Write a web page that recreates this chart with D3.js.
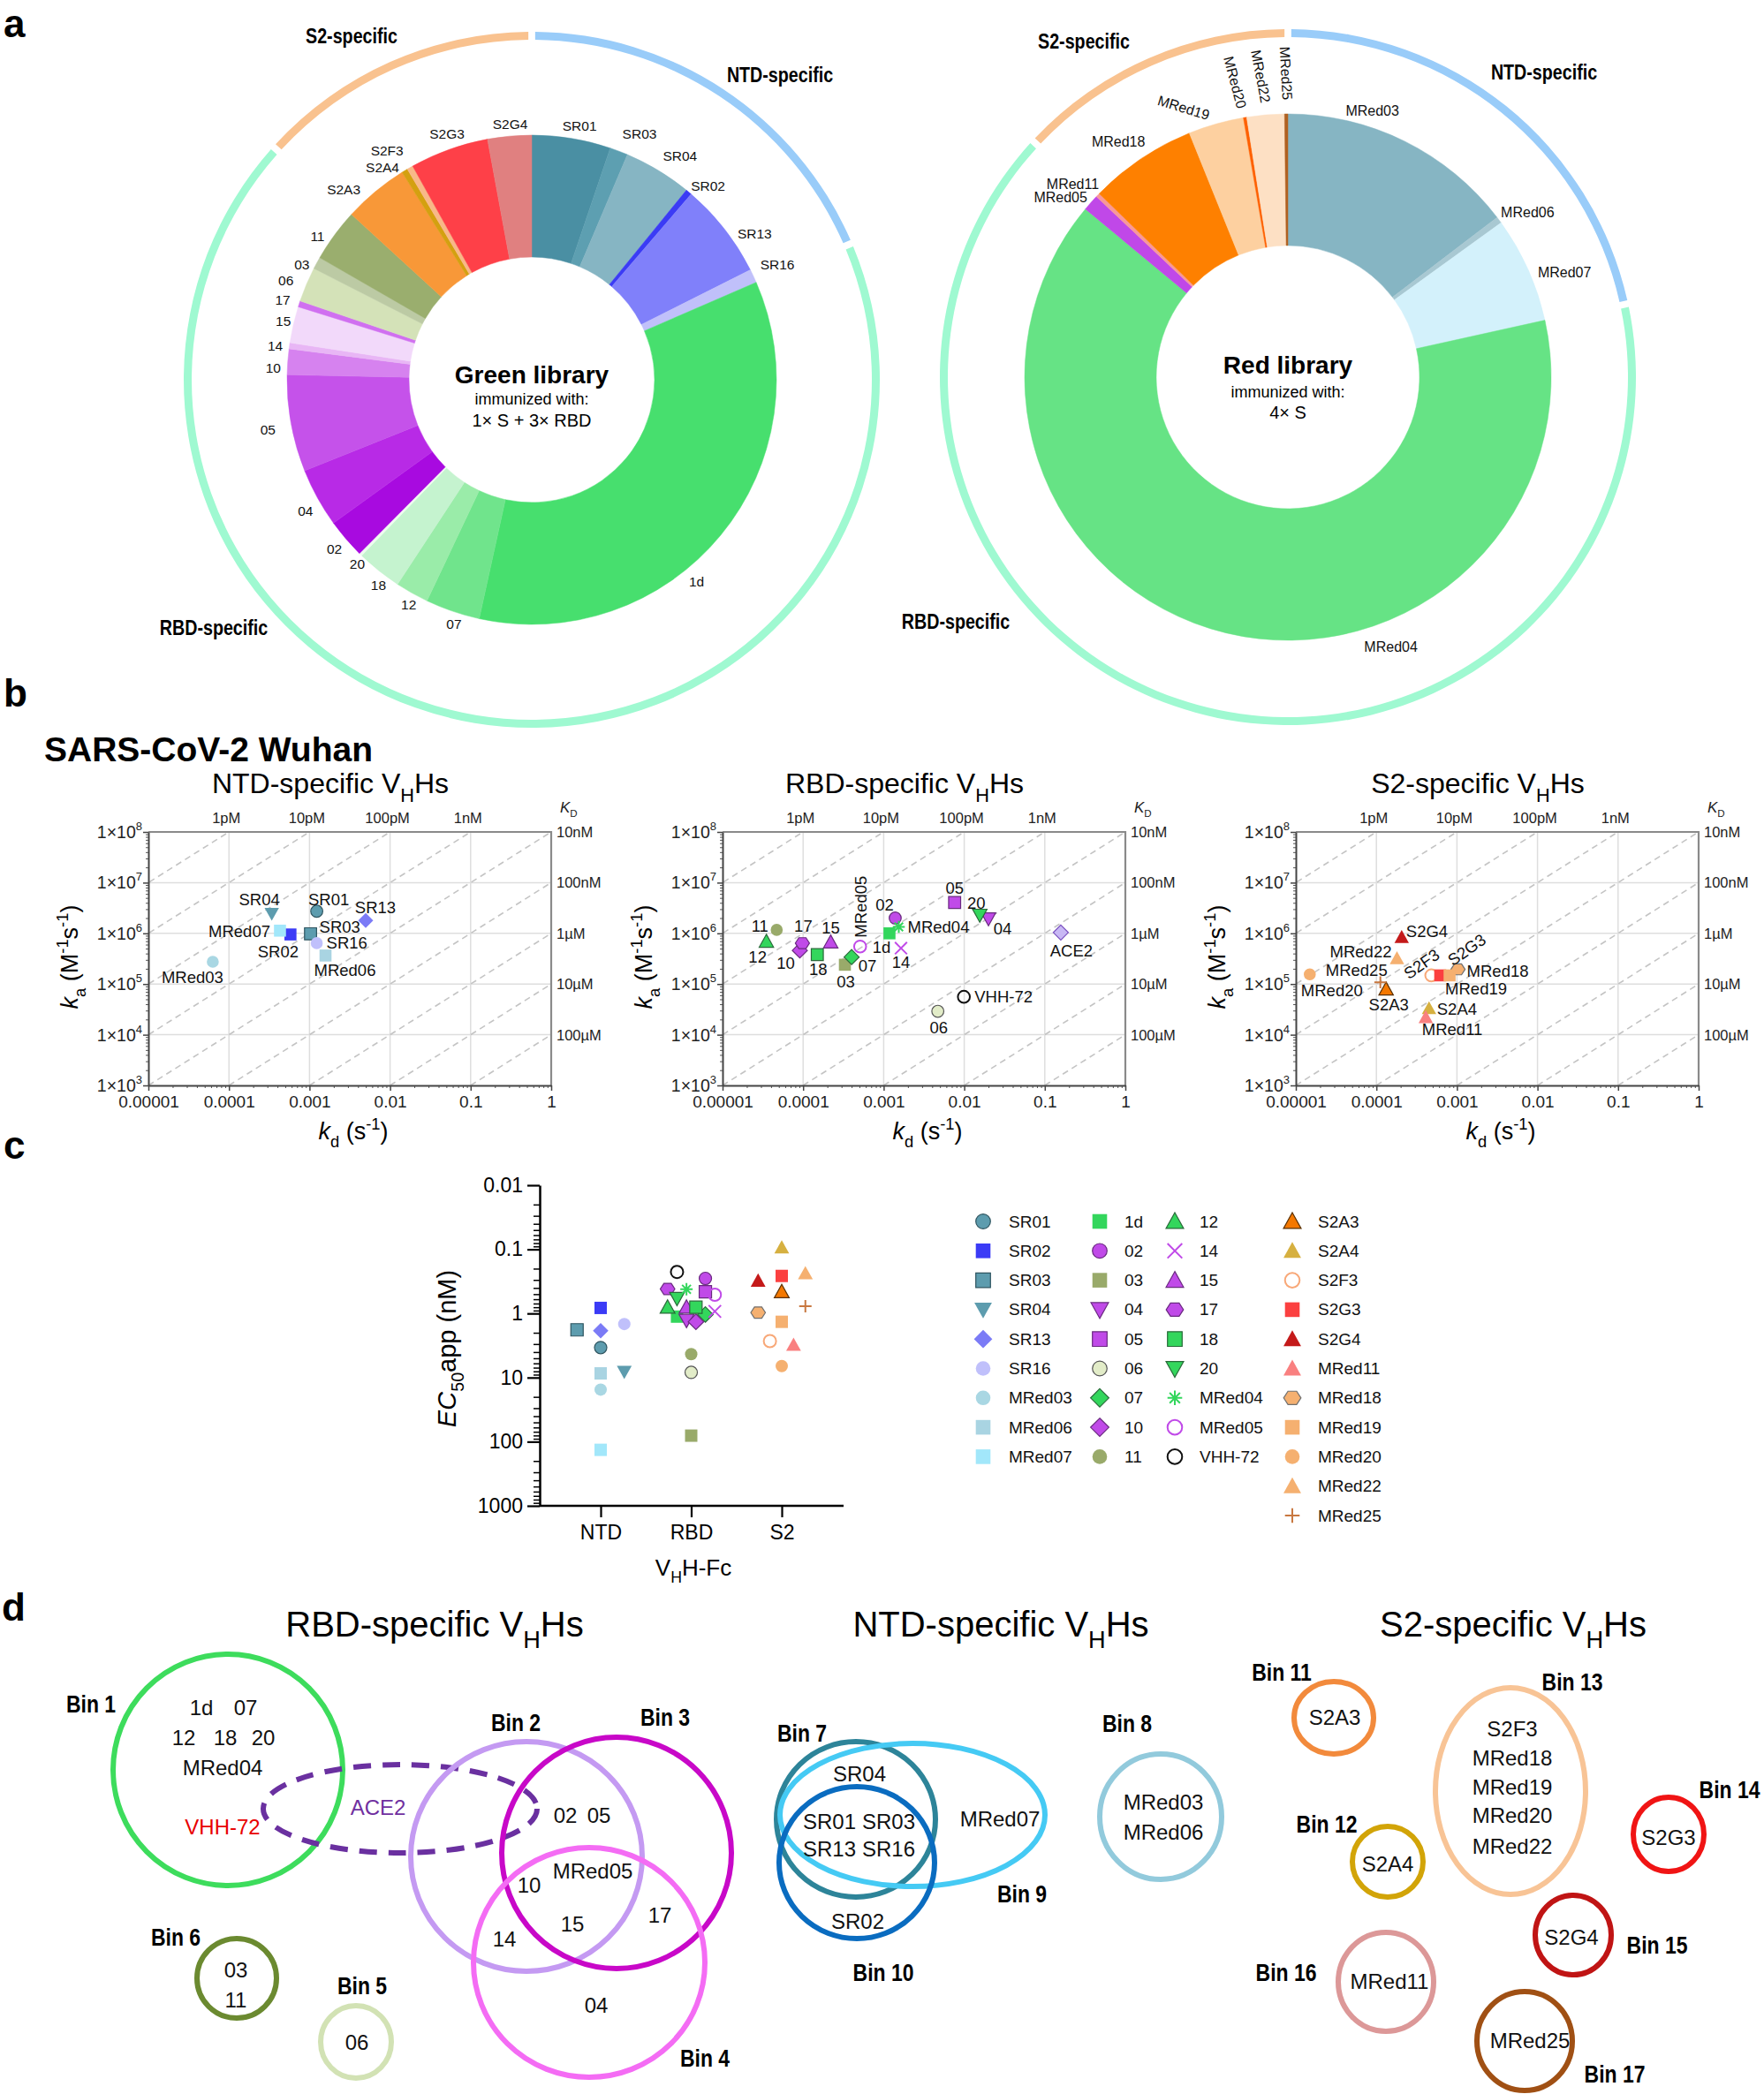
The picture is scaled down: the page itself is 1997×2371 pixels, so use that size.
<!DOCTYPE html>
<html><head><meta charset="utf-8">
<script src="https://cdnjs.cloudflare.com/ajax/libs/d3/7.8.5/d3.min.js"></script>
<style>
body{margin:0;background:#fff;}
svg{display:block;font-family:"Liberation Sans",Arial,Helvetica,sans-serif;}
</style></head>
<body><svg id="chart" width="1997" height="2371"></svg>
<script>
// ================= DATA =================
// Panel a: library composition (share of clones, %)
const greenNames  = ["SR01","SR03","SR04","SR02","SR13","SR16","1d","07","12","18","20","02","04","05","10","14","15","17","06","03","11","S2A3","S2A4","S2F3","S2G3","S2G4"];
const greenShares = [5.2,1.2,4.5,0.4,6.3,0.9,35.0,3.6,2.2,3.0,0.2,2.6,3.9,6.4,1.7,0.4,2.4,0.4,2.3,0.8,3.5,4.3,0.4,0.4,5.2,2.9];
const greenGroups = ["NTD","NTD","NTD","NTD","NTD","NTD","RBD","RBD","RBD","RBD","RBD","RBD","RBD","RBD","RBD","RBD","RBD","RBD","RBD","RBD","RBD","S2","S2","S2","S2","S2"];
const redNames  = ["MRed03","MRed06","MRed07","MRed04","MRed05","MRed11","MRed18","MRed19","MRed20","MRed22","MRed25"];
const redShares = [14.6,0.4,6.5,64.4,1.0,0.25,6.6,3.4,0.2,2.3,0.2];
const redGroups = ["NTD","NTD","NTD","RBD","RBD","S2","S2","S2","S2","S2","S2"];
const ringCategories = ["NTD","RBD","S2"];

// Panel b: kinetics (kd in 1/s, ka in 1/(M s))
const ntdNames = ["SR01","SR02","SR03","SR04","SR13","SR16","MRed03","MRed06","MRed07"];
const ntdKd = [1.23e-3,5.8e-4,1.03e-3,3.4e-4,4.98e-3,1.23e-3,6.3e-5,1.58e-3,4.3e-4];
const ntdKa = [2.73e6,9.5e5,9.8e5,2.45e6,1.8e6,6.4e5,2.75e5,3.65e5,1.13e6];
const rbdNames = ["1d","02","03","04","05","06","07","10","11","12","14","15","17","18","20","MRed04","MRed05","VHH-72","ACE2"];
const rbdKd = [1.18e-3,1.39e-3,3.3e-4,2.0e-2,7.6e-3,4.7e-3,4.0e-4,9.1e-5,4.7e-5,3.5e-5,1.64e-3,2.2e-4,9.8e-5,1.5e-4,1.56e-2,1.54e-3,5.1e-4,9.9e-3,0.158];
const rbdKa = [1.0e6,2.0e6,2.4e5,1.95e6,4.06e6,2.9e4,3.4e5,4.6e5,1.17e6,6.9e5,5.1e5,6.7e5,6.4e5,3.8e5,2.3e6,1.34e6,5.5e5,5.6e4,1.04e6];
const s2Names = ["S2A3","S2A4","S2F3","S2G3","S2G4","MRed11","MRed18","MRed19","MRed20","MRed22","MRed25"];
const s2Kd = [1.32e-4,4.5e-4,4.8e-4,6.2e-4,2.06e-4,4.1e-4,1.03e-3,8.1e-4,1.49e-5,1.8e-4,1.12e-4];
const s2Ka = [7.9e4,3.3e4,1.48e5,1.48e5,8.4e5,2.2e4,1.95e5,1.48e5,1.55e5,3.2e5,1.08e5];
const kdTickLabels = ["0.00001","0.0001","0.001","0.01","0.1","1"];
const kaTickExps = [3,4,5,6,7,8];
const kdTopLabels = ["1pM","10pM","100pM","1nM"];
const kdRightLabels = ["10nM","100nM","1µM","10µM","100µM"];

// Panel c: EC50app (nM)
const ec50Groups = ["NTD","RBD","S2"];
const ntdEc50 = [3.4,0.82,1.8,8.1,1.86,1.46,15.4,8.6,134];
const rbdEcNames = ["1d","02","03","04","05","06","07","10","11","12","14","15","17","18","20","MRed04","MRed05","VHH-72"];
const rbdEc50 = [1.12,0.284,80.5,1.28,0.46,8.3,1.04,1.35,4.3,0.8,0.93,0.8,0.415,0.8,0.58,0.42,0.51,0.225];
const s2Ec50 = [0.46,0.094,2.7,0.26,0.31,3.1,0.97,1.35,6.6,0.237,0.77];
const ecTickLabels = ["0.01","0.1","1","10","100","1000"];
const legendCols = [
  ["SR01","SR02","SR03","SR04","SR13","SR16","MRed03","MRed06","MRed07"],
  ["1d","02","03","04","05","06","07","10","11"],
  ["12","14","15","17","18","20","MRed04","MRed05","VHH-72"],
  ["S2A3","S2A4","S2F3","S2G3","S2G4","MRed11","MRed18","MRed19","MRed20","MRed22","MRed25"]
];

// ================= STYLES / LAYOUT =================
const sliceColor = {
  SR01:"#4a8fa3",SR03:"#5d9fb1",SR04:"#86b5c3",SR02:"#3b3bf5",SR13:"#8080fa",SR16:"#c0c0fa",
  "1d":"#47df6e","07":"#70e48c","12":"#9aeca9","18":"#c5f3cf","20":"#eefcf0",
  "02":"#a80ae0","04":"#b82ae6","05":"#c552ea","10":"#d682ef","14":"#e8b6f5","15":"#f2d9fa","17":"#d070f0",
  "06":"#d4e2b8","03":"#bccaa4","11":"#9aae6e",
  S2A3:"#f89838",S2A4:"#d4a010",S2F3:"#f8b888",S2G3:"#fe4048",S2G4:"#e08080",
  MRed03:"#86b5c3",MRed06:"#a8c8d2",MRed07:"#d3f1fb",MRed04:"#66e385",MRed05:"#c048e8",MRed11:"#f89898",
  MRed18:"#fe8000",MRed19:"#fdd0a0",MRed20:"#fe6000",MRed22:"#fde0c4",MRed25:"#b06020"
};
const ringColor = {NTD:"#99ccf9",RBD:"#9ff9d1",S2:"#f9c28f"};
const greenLabelAdj = {SR01:[1.3,293],SR03:[2.8,304],SR04:[2.4,304],SR02:[2.3,297],SR13:[4.7,302],SR16:[0,307],
  "1d":[11.3,295],"07":[-1.2,290],"12":[-0.6,290],"18":[-1.9,290],"20":[-0.9,287],"02":[0,294],"04":[-1.2,296],
  "05":[-0.4,304],"10":[-1.5,293],"14":[-0.4,293],"15":[0.2,289],"17":[-0.3,296],"06":[-1,300],"03":[-1.9,291],
  "11":[-2.4,292],S2A3:[-4.9,303],S2A4:[-3.8,294],S2F3:[-2.4,307],S2G3:[0.8,295],S2G4:[0.4,291]};
const redLabelAdj = {MRed03:[-8.7,316,0],MRed06:[2.2,329,0],MRed07:[3.4,335,0],MRed04:[-34.5,327,0],
  MRed05:[-3.2,328,0],MRed11:[-1.9,327,0],MRed18:[-1.9,328,0],MRed19:[-5.3,327,17],MRed20:[-0.8,339,75],
  MRed22:[-0.3,342,79],MRed25:[0,344,87]};

const marker = {
  SR01:{s:"circle",f:"#5d9cae",k:"#2f5560"}, SR02:{s:"square",f:"#3b3bf6"}, SR03:{s:"square",f:"#5d9cae",k:"#2f5560"},
  SR04:{s:"triDown",f:"#5d9cae"}, SR13:{s:"diamond",f:"#7b7bf6"}, SR16:{s:"circle",f:"#c0c0fb"},
  MRed03:{s:"circle",f:"#a9d7e3"}, MRed06:{s:"square",f:"#a9d4e2"}, MRed07:{s:"square",f:"#a2e7fa"},
  "1d":{s:"square",f:"#33d65c"}, "02":{s:"circle",f:"#c04ae8",k:"#6a2a80"}, "03":{s:"square",f:"#99aa6a"},
  "04":{s:"triDown",f:"#c04ae8",k:"#6a2a80"}, "05":{s:"square",f:"#c04ae8",k:"#6a2a80"}, "06":{s:"circle",f:"#e2ecc8",k:"#555"},
  "07":{s:"diamond",f:"#33d65c",k:"#2a6a3a"}, "10":{s:"diamond",f:"#c04ae8",k:"#6a2a80"}, "11":{s:"circle",f:"#99aa6a"},
  "12":{s:"triUp",f:"#33d65c",k:"#2a6a3a"}, "14":{s:"times",k:"#c04ae8"}, "15":{s:"triUp",f:"#c04ae8",k:"#6a2a80"},
  "17":{s:"hex",f:"#c04ae8",k:"#6a2a80"}, "18":{s:"square",f:"#33d65c",k:"#2a6a3a"}, "20":{s:"triDown",f:"#33d65c",k:"#2a6a3a"},
  MRed04:{s:"asterisk",k:"#33d65c"}, MRed05:{s:"circle",f:"none",k:"#c04ae8"}, "VHH-72":{s:"circle",f:"none",k:"#111"},
  ACE2:{s:"diamond",f:"#c8b8f4",k:"#7a50c0"},
  S2A3:{s:"triUp",f:"#f47800",k:"#5a3000"}, S2A4:{s:"triUp",f:"#d6b040"}, S2F3:{s:"circle",f:"none",k:"#f8a878"},
  S2G3:{s:"square",f:"#fb4040"}, S2G4:{s:"triUp",f:"#c41a1a"}, MRed11:{s:"triUp",f:"#f98080"},
  MRed18:{s:"hex",f:"#f5b070",k:"#707070"}, MRed19:{s:"square",f:"#f5b070"}, MRed20:{s:"circle",f:"#f5b070"},
  MRed22:{s:"triUp",f:"#f5b070"}, MRed25:{s:"plus",k:"#c87840"}
};
const kinLabel = {
  SR01:[13.5,-13,"middle"],SR04:[-14,-16,"middle"],SR13:[11,-15,"middle"],MRed07:[-11,1,"end"],SR02:[-14,19,"middle"],
  SR03:[10,-8,"start"],SR16:[11,0,"start"],MRed06:[-13,17,"start"],MRed03:[-23,18,"middle"],
  "11":[-19,-4,"middle"],"12":[-10,17,"middle"],"17":[1,-19,"middle"],"10":[-16,14,"middle"],"15":[0,-16,"middle"],
  "18":[1,17,"middle"],"03":[1,19,"middle"],"07":[18,10,"middle"],MRed05:[1,-45,"middle",-90],"1d":[-9,16,"middle"],
  "02":[-12,-15,"middle"],MRed04:[10,0,"start"],"14":[0,16,"middle"],"05":[0,-16,"middle"],"20":[-4,-14,"middle"],
  "04":[16,11,"middle"],ACE2:[12,21,"middle"],"VHH-72":[12,0,"start"],"06":[1,18,"middle"],
  S2G4:[5,-7,"start"],MRed22:[-6,-8,"end"],MRed20:[25,18,"middle"],MRed25:[8,-14,"end"],S2A3:[3,17,"middle"],
  S2F3:[-11,-13,"middle",-35],S2G3:[30,-29,"middle",-35],MRed18:[10,2,"start"],MRed19:[30,15,"middle"],
  S2A4:[9,1,"start"],MRed11:[30,14,"middle"]
};
const ecJitter = {SR01:0,SR02:0,SR03:-2.5,SR04:2.5,SR13:0,SR16:2.5,MRed03:0,MRed06:0,MRed07:0,
  "1d":-1.5,"02":1.5,"03":0,"04":-0.5,"05":1.5,"06":0,"07":1.5,"10":0.5,"11":0,"12":-2.5,"14":2.5,"15":-0.5,"17":-2.5,
  "18":0.5,"20":-1.5,MRed04:-0.5,MRed05:2.5,"VHH-72":-1.5,
  S2A3:0,S2A4:0,S2F3:-1.25,S2G3:0,S2G4:-2.5,MRed11:1.25,MRed18:-2.5,MRed19:0,MRed20:0,MRed22:2.5,MRed25:2.5};

// Panel d layout
const binRings = [
  {id:"Bin 1",cx:258,cy:2004,rx:130,ry:131,c:"#3ddc5c"},
  {id:"ACE2",cx:453,cy:2048,rx:155,ry:50,c:"#6a30a0",dash:true},
  {id:"Bin 2",cx:596,cy:2102,rx:131,ry:130,c:"#c49af2"},
  {id:"Bin 3",cx:698,cy:2098,rx:130,ry:131,c:"#c808c8"},
  {id:"Bin 4",cx:667,cy:2222,rx:131,ry:130,c:"#f46cf4"},
  {id:"Bin 6",cx:268,cy:2240,rx:45,ry:45,c:"#6b8a30"},
  {id:"Bin 5",cx:403,cy:2312,rx:40,ry:41,c:"#d2e2b4"},
  {id:"Bin 7",cx:969,cy:2060,rx:90,ry:88,c:"#2d8499"},
  {id:"Bin 9",cx:1033,cy:2055,rx:150,ry:81,c:"#45caf4"},
  {id:"Bin 10",cx:970,cy:2109,rx:88,ry:86,c:"#0a6cc0"},
  {id:"Bin 8",cx:1314,cy:2057,rx:69,ry:71,c:"#92cadc"},
  {id:"Bin 11",cx:1510,cy:1945,rx:45,ry:41,c:"#f28a3c"},
  {id:"Bin 13",cx:1710,cy:2028,rx:85,ry:117,c:"#f8c496"},
  {id:"Bin 12",cx:1571,cy:2108,rx:40,ry:40,c:"#d2a408"},
  {id:"Bin 14",cx:1889,cy:2077,rx:40,ry:42,c:"#f01414"},
  {id:"Bin 15",cx:1781,cy:2191,rx:43,ry:45,c:"#c01414"},
  {id:"Bin 16",cx:1569,cy:2244,rx:54,ry:56,c:"#dc9898"},
  {id:"Bin 17",cx:1726,cy:2311,rx:54,ry:56,c:"#a05014"}
];
const binTexts = [
  ["1d",228,1933],["07",278,1933],["12",208,1967],["18",255,1967],["20",298,1967],["MRed04",252,2001],
  ["VHH-72",252,2068,"#e80000"],["ACE2",428,2046,"#7030a0"],["02",640,2055],["05",678,2055],["MRed05",671,2118],
  ["10",599,2134],["17",747,2168],["15",648,2178],["14",571,2195],["04",675,2270],["03",267,2230],["11",267,2264],["06",404,2312],
  ["SR04",973,2008],["SR01",939,2062],["SR03",1006,2062],["SR13",939,2093],["SR16",1006,2093],["MRed07",1132,2059],
  ["SR02",971,2175],["MRed03",1317,2040],["MRed06",1317,2074],
  ["S2A3",1511,1944],["S2F3",1712,1957],["MRed18",1712,1990],["MRed19",1712,2023],["MRed20",1712,2055],["MRed22",1712,2090],
  ["S2A4",1571,2110],["S2G3",1889,2080],["S2G4",1779,2193],["MRed11",1573,2243],["MRed25",1732,2310]
];
const binLabels = [
  ["Bin 1",103,1929],["Bin 2",584,1950],["Bin 3",753,1944],["Bin 4",798,2330],["Bin 6",199,2193],["Bin 5",410,2248],
  ["Bin 7",908,1962],["Bin 9",1157,2144],["Bin 10",1000,2233],["Bin 8",1276,1951],
  ["Bin 11",1451,1893],["Bin 13",1780,1904],["Bin 12",1502,2065],["Bin 14",1958,2026],["Bin 15",1876,2202],
  ["Bin 16",1456,2233],["Bin 17",1828,2348]
];

// ================= HELPERS =================
const svg = d3.select("#chart");
svg.append("rect").attr("width",1997).attr("height",2371).attr("fill","#fff");

function narrow(g,x,y,str,size,opts={}){
  const sx = opts.sx||0.82;
  return g.append("text").attr("transform",`translate(${x},${y}) scale(${sx},1)`)
    .attr("text-anchor",opts.anchor||"middle").attr("dominant-baseline","central")
    .attr("font-size",size).attr("font-weight",opts.weight||"bold").attr("fill",opts.color||"#000").text(str);
}
function rich(sel,parts,size){
  let shift=0;
  parts.forEach(([t,k])=>{
    k=k||"";
    const ts=sel.append("tspan").text(t);
    let target=0;
    if(k.includes("sub")) target=size*0.32;
    if(k.includes("sup")) target=-size*0.42;
    ts.attr("dy",target-shift); shift=target;
    if(k.includes("sub")||k.includes("sup")) ts.attr("font-size",size*0.68);
    if(k.startsWith("i")) ts.attr("font-style","italic");
  });
  return sel;
}
function markerPath(shape,r){
  switch(shape){
    case "circle": return `M${r},0A${r},${r} 0 1,1 ${-r},0A${r},${r} 0 1,1 ${r},0Z`;
    case "square": return `M${-r},${-r}H${r}V${r}H${-r}Z`;
    case "diamond": {const a=r*1.25; return `M0,${-a}L${a},0L0,${a}L${-a},0Z`;}
    case "triUp": {const a=r*1.2; return `M0,${-a}L${a},${a*0.8}L${-a},${a*0.8}Z`;}
    case "triDown": {const a=r*1.2; return `M0,${a}L${a},${-a*0.8}L${-a},${-a*0.8}Z`;}
    case "hex": {const p=d3.range(6).map(i=>[r*1.18*Math.cos(i*Math.PI/3), r*1.05*Math.sin(i*Math.PI/3)]); return "M"+p.map(q=>q.join(",")).join("L")+"Z";}
    case "times": return `M${-r},${-r}L${r},${r}M${r},${-r}L${-r},${r}`;
    case "plus": return `M${-r},0H${r}M0,${-r}V${r}`;
    case "asterisk": {let s=""; for(let i=0;i<4;i++){const a=i*Math.PI/4; s+=`M${-r*Math.cos(a)},${-r*Math.sin(a)}L${r*Math.cos(a)},${r*Math.sin(a)}`;} return s;}
  }
}
function drawMarker(g,name,x,y,r){
  const m=marker[name];
  const lineOnly = ["times","plus","asterisk"].includes(m.s);
  g.append("path").attr("transform",`translate(${x},${y})`).attr("d",markerPath(m.s,r))
    .attr("fill", lineOnly ? "none" : (m.f||"none"))
    .attr("stroke", m.k||"none")
    .attr("stroke-width", lineOnly||m.f==="none" ? 2 : 1.2);
}
function panelLetter(t,x,y){
  svg.append("text").attr("x",x).attr("y",y).attr("font-size",44).attr("font-weight","bold").text(t);
}

// ================= PANEL a =================
panelLetter("a",4,42);
function donut(cx,cy,rIn,rOut,names,shares,groups,labelAdj,labelSize,centerLines){
  const g=svg.append("g").attr("transform",`translate(${cx},${cy})`);
  const data=names.map((n,i)=>({n,v:shares[i],grp:groups[i]}));
  const arcs=d3.pie().sort(null).value(d=>d.v)(data);
  const arc=d3.arc().innerRadius(rIn).outerRadius(rOut);
  g.selectAll("path.sl").data(arcs).join("path").attr("class","sl").attr("d",arc)
    .attr("fill",d=>sliceColor[d.data.n]).attr("stroke",d=>sliceColor[d.data.n]).attr("stroke-width",0.5);
  const catVals=ringCategories.map(c=>d3.sum(data.filter(d=>d.grp===c),d=>d.v));
  const ring=d3.pie().sort(null).padAngle(0.014)(catVals);
  g.selectAll("path.ring").data(ring).join("path").attr("class","ring")
    .attr("d",d3.arc().innerRadius(385).outerRadius(394)).attr("fill",(d,i)=>ringColor[ringCategories[i]]);
  arcs.forEach(a=>{
    const adj=labelAdj[a.data.n]||[0,rOut+18,0];
    const mid=(a.startAngle+a.endAngle)/2+adj[0]*Math.PI/180;
    const lx=adj[1]*Math.sin(mid), ly=-adj[1]*Math.cos(mid);
    g.append("text").attr("transform",`translate(${lx},${ly}) rotate(${adj[2]||0})`)
      .attr("text-anchor","middle").attr("dominant-baseline","central").attr("font-size",labelSize).attr("fill","#111")
      .text(a.data.n);
  });
  centerLines.forEach(([t,y,s,w])=>{
    g.append("text").attr("x",0).attr("y",y).attr("text-anchor","middle").attr("font-size",s)
      .attr("font-weight",w||"normal").attr("fill","#000").text(t);
  });
  return g;
}
donut(602,430,139,277,greenNames,greenShares,greenGroups,greenLabelAdj,15.5,
  [["Green library",4,28,"bold"],["immunized with:",28,18],["1× S + 3× RBD",53,20]]);
donut(1458,427,149,298,redNames,redShares,redGroups,redLabelAdj,16,
  [["Red library",-4,28,"bold"],["immunized with:",23,18],["4× S",47,20]]);
narrow(svg,398,41,"S2-specific",24);
narrow(svg,883,85,"NTD-specific",24);
narrow(svg,242,711,"RBD-specific",24);
narrow(svg,1227,47,"S2-specific",24);
narrow(svg,1748,82,"NTD-specific",24);
narrow(svg,1082,704,"RBD-specific",24);

// ================= PANEL b =================
panelLetter("b",4,800);
svg.append("text").attr("x",50).attr("y",862).attr("font-size",39).attr("font-weight","bold").text("SARS-CoV-2 Wuhan");

function kinetics(x0,title,names,kd,ka){
  const W=456, top=942, bot=1229;
  const x=d3.scaleLog().domain([1e-5,1]).range([x0,x0+W]);
  const y=d3.scaleLog().domain([1e3,1e8]).range([bot,top]);
  const g=svg.append("g");
  const cid="clip"+x0;
  g.append("clipPath").attr("id",cid).append("rect").attr("x",x0).attr("y",top).attr("width",W).attr("height",bot-top);
  const xDec=[1e-4,1e-3,1e-2,1e-1], yDec=[1e4,1e5,1e6,1e7];
  g.selectAll(".gx").data(xDec).join("line").attr("x1",d=>x(d)).attr("x2",d=>x(d)).attr("y1",top).attr("y2",bot)
    .attr("stroke","#dedede").attr("stroke-width",1.5);
  g.selectAll(".gy").data(yDec).join("line").attr("y1",d=>y(d)).attr("y2",d=>y(d)).attr("x1",x0).attr("x2",x0+W)
    .attr("stroke","#dedede").attr("stroke-width",1.5);
  const KDs=d3.range(-12,-3).map(k=>Math.pow(10,k));
  g.append("g").attr("clip-path",`url(#${cid})`).selectAll("line").data(KDs).join("line")
    .attr("x1",K=>x(K*1e3)).attr("y1",y(1e3)).attr("x2",K=>x(K*1e8)).attr("y2",y(1e8))
    .attr("stroke","#c4c4c4").attr("stroke-width",1.6).attr("stroke-dasharray","7,5");
  g.append("path").attr("d",`M${x0},${top}H${x0+W}V${bot}`).attr("fill","none").attr("stroke","#8a8a8a").attr("stroke-width",2.2);
  // left axis
  const minorY=[]; for(let e=3;e<8;e++) for(let m=2;m<10;m++) minorY.push(m*Math.pow(10,e));
  const majorY=kaTickExps.map(e=>Math.pow(10,e));
  g.append("g").attr("transform",`translate(${x0},0)`).call(d3.axisLeft(y).tickValues(minorY).tickSize(3).tickFormat(""))
    .call(s=>{s.select(".domain").remove(); s.selectAll("line").attr("stroke","#555");});
  g.append("g").attr("transform",`translate(${x0},0)`).call(d3.axisLeft(y).tickValues(majorY).tickSize(6).tickSizeOuter(0).tickFormat(""))
    .call(s=>{s.select(".domain").attr("stroke","#444").attr("stroke-width",2); s.selectAll("line").attr("stroke","#444").attr("stroke-width",1.5);});
  kaTickExps.forEach(e=>{
    const t=g.append("text").attr("x",x0-7).attr("y",y(Math.pow(10,e))+7).attr("text-anchor","end").attr("font-size",19.5).attr("fill","#222");
    t.append("tspan").text("1×10");
    t.append("tspan").attr("dy",-9).attr("font-size",13).text(e);
  });
  // bottom axis
  const minorX=[]; for(let e=-5;e<0;e++) for(let m=2;m<10;m++) minorX.push(m*Math.pow(10,e));
  const majorX=[1e-5,1e-4,1e-3,1e-2,1e-1,1];
  g.append("g").attr("transform",`translate(0,${bot})`).call(d3.axisBottom(x).tickValues(minorX).tickSize(3).tickFormat(""))
    .call(s=>{s.select(".domain").remove(); s.selectAll("line").attr("stroke","#555");});
  g.append("g").attr("transform",`translate(0,${bot})`).call(d3.axisBottom(x).tickValues(majorX).tickSize(6).tickSizeOuter(0).tickFormat((d,i)=>kdTickLabels[i]))
    .call(s=>{s.select(".domain").attr("stroke","#444").attr("stroke-width",2); s.selectAll("line").attr("stroke","#444").attr("stroke-width",1.5);
      s.selectAll("text").attr("font-size",19).attr("fill","#222").attr("font-family",null).attr("dy","0.71em").attr("y",12);});
  // KD labels
  kdTopLabels.forEach((t,i)=>{
    g.append("text").attr("x",x(majorX[i+1])-3).attr("y",top-16).attr("text-anchor","middle").attr("dominant-baseline","central")
      .attr("font-size",16.5).attr("fill","#222").text(t);
  });
  kdRightLabels.forEach((t,i)=>{
    g.append("text").attr("x",x0+W+6).attr("y",y(Math.pow(10,8-i))).attr("dominant-baseline","central")
      .attr("font-size",16.5).attr("fill","#222").text(t);
  });
  rich(g.append("text").attr("x",x0+W+10).attr("y",top-22).attr("font-size",17).attr("fill","#222"),[["K","i"],["D","sub"]],17);
  // titles
  rich(g.append("text").attr("x",x0+W/2-22).attr("y",898).attr("text-anchor","middle").attr("font-size",32).attr("fill","#000"),
    [[title+"-specific V",""],["H","sub"],["Hs",""]],32);
  rich(g.append("text").attr("transform",`translate(${x0-80},${(top+bot)/2-2}) rotate(-90)`).attr("text-anchor","middle")
    .attr("font-size",27).attr("fill","#000"),[["k","i"],["a","sub"],[" (M",""],["-1","sup"],["s",""],["-1","sup"],[")",""]],27);
  rich(g.append("text").attr("x",x0+W/2+4).attr("y",1290).attr("text-anchor","middle").attr("font-size",27).attr("fill","#000"),
    [["k","i"],["d","sub"],[" (s",""],["-1","sup"],[")",""]],27);
  // points
  const pts=names.map((n,i)=>({n,kd:kd[i],ka:ka[i]}));
  pts.forEach(p=>drawMarker(g,p.n,x(p.kd),y(p.ka),6.8));
  pts.forEach(p=>{
    const L=kinLabel[p.n]||[0,-15,"middle"];
    g.append("text").attr("transform",`translate(${x(p.kd)+L[0]},${y(p.ka)+L[1]}) rotate(${L[3]||0})`)
      .attr("text-anchor",L[2]).attr("dominant-baseline","central").attr("font-size",18.5).attr("fill","#111").text(p.n);
  });
}
kinetics(168,"NTD",ntdNames,ntdKd,ntdKa);
kinetics(818,"RBD",rbdNames,rbdKd,rbdKa);
kinetics(1467,"S2",s2Names,s2Kd,s2Ka);

// ================= PANEL c =================
panelLetter("c",4,1312);
(function(){
  const g=svg.append("g");
  const y=d3.scaleLog().domain([0.01,1000]).range([1342,1705]);
  const x=d3.scalePoint().domain(ec50Groups).range([680,885]);
  const jit=10.7;
  const axX=611;
  const minor=[]; for(let e=-2;e<3;e++) for(let m=2;m<10;m++) minor.push(m*Math.pow(10,e));
  const major=[0.01,0.1,1,10,100,1000];
  g.append("g").attr("transform",`translate(${axX},0)`).call(d3.axisLeft(y).tickValues(minor).tickSize(7).tickFormat(""))
    .call(s=>{s.select(".domain").remove(); s.selectAll("line").attr("stroke","#000").attr("stroke-width",1.5);});
  g.append("g").attr("transform",`translate(${axX},0)`).call(d3.axisLeft(y).tickValues(major).tickSize(14).tickSizeOuter(0).tickFormat((d,i)=>ecTickLabels[i]))
    .call(s=>{s.select(".domain").attr("stroke","#000").attr("stroke-width",2.5); s.selectAll("line").attr("stroke","#000").attr("stroke-width",2.2);
      s.selectAll("text").attr("font-size",23).attr("fill","#000").attr("font-family",null).attr("x",-19);});
  g.append("line").attr("x1",axX).attr("x2",955).attr("y1",1705).attr("y2",1705).attr("stroke","#000").attr("stroke-width",2.5);
  g.append("g").attr("transform","translate(0,1705)").call(d3.axisBottom(x).tickSize(13).tickSizeOuter(0))
    .call(s=>{s.select(".domain").remove(); s.selectAll("line").attr("stroke","#000").attr("stroke-width",2.2);
      s.selectAll("text").attr("font-size",23).attr("fill","#000").attr("font-family",null).attr("y",22);});
  rich(g.append("text").attr("x",785).attr("y",1784).attr("text-anchor","middle").attr("font-size",26).attr("fill","#000"),
    [["V",""],["H","sub"],["H-Fc",""]],26);
  rich(g.append("text").attr("transform","translate(516,1527) rotate(-90)").attr("text-anchor","middle").attr("font-size",29).attr("fill","#000"),
    [["EC","i"],["50","sub"],["app (nM)",""]],29);
  const sets=[["NTD",ntdNames,ntdEc50],["RBD",rbdEcNames,rbdEc50],["S2",s2Names,s2Ec50]];
  sets.forEach(([grp,names,vals])=>{
    names.forEach((n,i)=>drawMarker(g,n,x(grp)+ecJitter[n]*jit,y(vals[i]),7));
  });
  // legend
  const colX=[[1113,1142],[1245,1273],[1330,1358],[1463,1492]];
  legendCols.forEach((col,ci)=>{
    col.forEach((n,ri)=>{
      const yy=1383+ri*33.3;
      drawMarker(g,n,colX[ci][0],yy,8.3);
      g.append("text").attr("x",colX[ci][1]).attr("y",yy).attr("dominant-baseline","central").attr("font-size",19).attr("fill","#111").text(n);
    });
  });
})();

// ================= PANEL d =================
panelLetter("d",2,1835);
(function(){
  const g=svg.append("g");
  const titles=[["RBD",492],["NTD",1133],["S2",1713]];
  titles.forEach(([t,x])=>{
    rich(g.append("text").attr("x",x).attr("y",1853).attr("text-anchor","middle").attr("font-size",40).attr("fill","#000"),
      [[t+"-specific V",""],["H","sub"],["Hs",""]],40);
  });
  g.selectAll("ellipse").data(binRings).join("ellipse")
    .attr("cx",d=>d.cx).attr("cy",d=>d.cy).attr("rx",d=>d.rx).attr("ry",d=>d.ry)
    .attr("fill","none").attr("stroke",d=>d.c).attr("stroke-width",6)
    .attr("stroke-dasharray",d=>d.dash?"20,13":null);
  binTexts.forEach(([t,x,y,c])=>{
    g.append("text").attr("x",x).attr("y",y).attr("text-anchor","middle").attr("dominant-baseline","central")
      .attr("font-size",24).attr("fill",c||"#111").text(t);
  });
  binLabels.forEach(([t,x,y])=>narrow(g,x,y,t,28));
})();
</script>
</body></html>
